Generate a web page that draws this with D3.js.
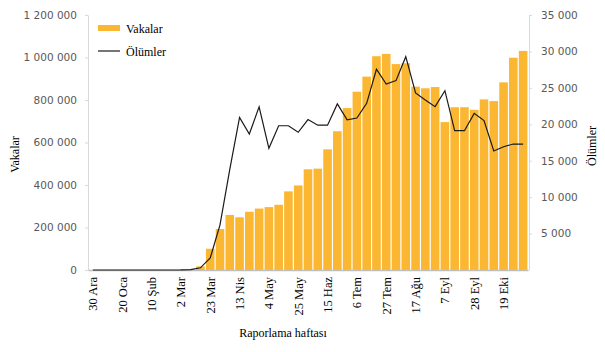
<!DOCTYPE html>
<html>
<head>
<meta charset="utf-8">
<script src="https://cdn.jsdelivr.net/npm/d3@7"></script>
<style>
  body { margin: 0; background: #fff; }
  .serif { font-family: "Liberation Serif", "Times New Roman", serif; }
</style>
</head>
<body>
<div id="chart"></div>
<script>
// weekly reporting periods (Monday of each week)
const weeks = ["30 Ara","6 Oca","13 Oca","20 Oca","27 Oca","3 Şub","10 Şub","17 Şub","24 Şub",
  "2 Mar","9 Mar","16 Mar","23 Mar","30 Mar","6 Nis","13 Nis","20 Nis","27 Nis","4 May","11 May",
  "18 May","25 May","1 Haz","8 Haz","15 Haz","22 Haz","29 Haz","6 Tem","13 Tem","20 Tem","27 Tem",
  "3 Ağu","10 Ağu","17 Ağu","24 Ağu","31 Ağu","7 Eyl","14 Eyl","21 Eyl","28 Eyl","5 Eki","12 Eki",
  "19 Eki","26 Eki","2 Kas"];

const tickWeeks = ["30 Ara","20 Oca","10 Şub","2 Mar","23 Mar","13 Nis","4 May","25 May","15 Haz",
  "6 Tem","27 Tem","17 Ağu","7 Eyl","28 Eyl","19 Eki"];

const cases = [0,0,0,0,0,0,0,0,0,200,2000,17000,100000,193000,259000,248000,274000,289000,296000,
  307000,370000,398000,474000,477000,568000,653000,762000,839000,910000,1006000,1017000,969000,
  973000,863000,855000,861000,696000,766000,766000,754000,803000,795000,883000,999000,1031000];

const deaths = [0,0,0,0,0,0,0,0,0,5,40,300,1650,6200,13800,20950,18660,22400,16700,19800,19800,
  18900,20650,19880,19880,22800,20600,20860,22880,27550,25530,25990,29280,24300,23330,22420,24610,
  19120,19120,21500,20500,16330,16920,17290,17290];

const leftTicks = [0,200000,400000,600000,800000,1000000,1200000];
const rightTicks = [5000,10000,15000,20000,25000,30000,35000];

const W = 605, H = 352;
const margin = { top: 15, right: 77, bottom: 82, left: 88 };
const barColor = "#fbb731";
const axisGray = "#d9d9d9";
const labelGray = "#595959";

const fmt = d3.formatLocale({ decimal: ",", thousands: " ", grouping: [3], currency: ["", ""] }).format(",");

const svg = d3.select("#chart").append("svg")
  .attr("width", W)
  .attr("height", H);

const x = d3.scaleBand()
  .domain(weeks)
  .range([margin.left, W - margin.right])
  .paddingInner(0.12)
  .paddingOuter(0.06);

const yL = d3.scaleLinear().domain([0, 1200000]).range([H - margin.bottom, margin.top]);
const yR = d3.scaleLinear().domain([0, 35000]).range([H - margin.bottom, margin.top]);

const data = weeks.map((w, i) => ({ week: w, cases: cases[i], deaths: deaths[i] }));

// bars
svg.append("g").selectAll("rect")
  .data(data)
  .join("rect")
  .attr("x", d => x(d.week))
  .attr("y", d => yL(d.cases))
  .attr("width", x.bandwidth())
  .attr("height", d => yL(0) - yL(d.cases))
  .attr("fill", barColor);

// left axis
const gL = svg.append("g")
  .attr("transform", `translate(${margin.left},0)`)
  .call(d3.axisLeft(yL).tickValues(leftTicks).tickFormat(fmt).tickSizeInner(3).tickSizeOuter(0).tickPadding(8));
gL.selectAll("line, path").attr("stroke", axisGray);
gL.selectAll("text")
  .attr("fill", labelGray)
  .style("font-family", "DejaVu Sans, sans-serif")
  .style("font-size", "10.5px");

// right axis
const gR = svg.append("g")
  .attr("transform", `translate(${W - margin.right + 1},0)`)
  .call(d3.axisRight(yR).tickValues(rightTicks).tickFormat(fmt).tickSizeInner(3).tickSizeOuter(0).tickPadding(9));
gR.selectAll("line, path").attr("stroke", axisGray);
gR.selectAll("text")
  .attr("fill", labelGray)
  .style("font-family", "DejaVu Sans, sans-serif")
  .style("font-size", "10.5px");

// x axis
const gX = svg.append("g")
  .attr("transform", `translate(0,${H - margin.bottom})`)
  .call(d3.axisBottom(x).tickValues(tickWeeks).tickSize(0).tickSizeOuter(0));
gX.select(".domain")
  .attr("stroke", "#bfbfbf")
  .attr("stroke-width", 1.5);
gX.selectAll("text")
  .attr("class", "serif")
  .attr("fill", "#000")
  .style("font-family", "Liberation Serif, serif")
  .style("font-size", "12.5px")
  .attr("transform", "rotate(-90)")
  .attr("text-anchor", "end")
  .attr("x", -7)
  .attr("y", 0)
  .attr("dy", "0.35em");

// deaths line
const line = d3.line()
  .x(d => x(d.week) + x.bandwidth() / 2)
  .y(d => yR(d.deaths));

svg.append("path")
  .datum(data)
  .attr("fill", "none")
  .attr("stroke", "#1a1a1a")
  .attr("stroke-width", 1.2)
  .attr("stroke-linejoin", "miter")
  .attr("d", line);

// axis titles
svg.append("text")
  .attr("class", "serif")
  .attr("transform", `translate(19,${(yL(0) + yL(1200000)) / 2 + 12}) rotate(-90)`)
  .attr("text-anchor", "middle")
  .style("font-size", "12px")
  .text("Vakalar");

svg.append("text")
  .attr("class", "serif")
  .attr("transform", `translate(596,146) rotate(-90)`)
  .attr("text-anchor", "middle")
  .style("font-size", "12px")
  .text("Ölümler");

svg.append("text")
  .attr("class", "serif")
  .attr("x", 283)
  .attr("y", 337)
  .attr("text-anchor", "middle")
  .style("font-size", "12px")
  .text("Raporlama haftası");

// legend
const legend = svg.append("g").attr("transform", "translate(98,0)");
legend.append("rect")
  .attr("x", 0).attr("y", 25)
  .attr("width", 22).attr("height", 6)
  .attr("fill", barColor);
legend.append("text")
  .attr("class", "serif")
  .attr("x", 28).attr("y", 32.5)
  .style("font-size", "12px")
  .text("Vakalar");
legend.append("line")
  .attr("x1", 0).attr("x2", 22)
  .attr("y1", 51).attr("y2", 51)
  .attr("stroke", "#1a1a1a")
  .attr("stroke-width", 1.2);
legend.append("text")
  .attr("class", "serif")
  .attr("x", 28).attr("y", 55.5)
  .style("font-size", "12px")
  .text("Ölümler");
</script>
</body>
</html>
